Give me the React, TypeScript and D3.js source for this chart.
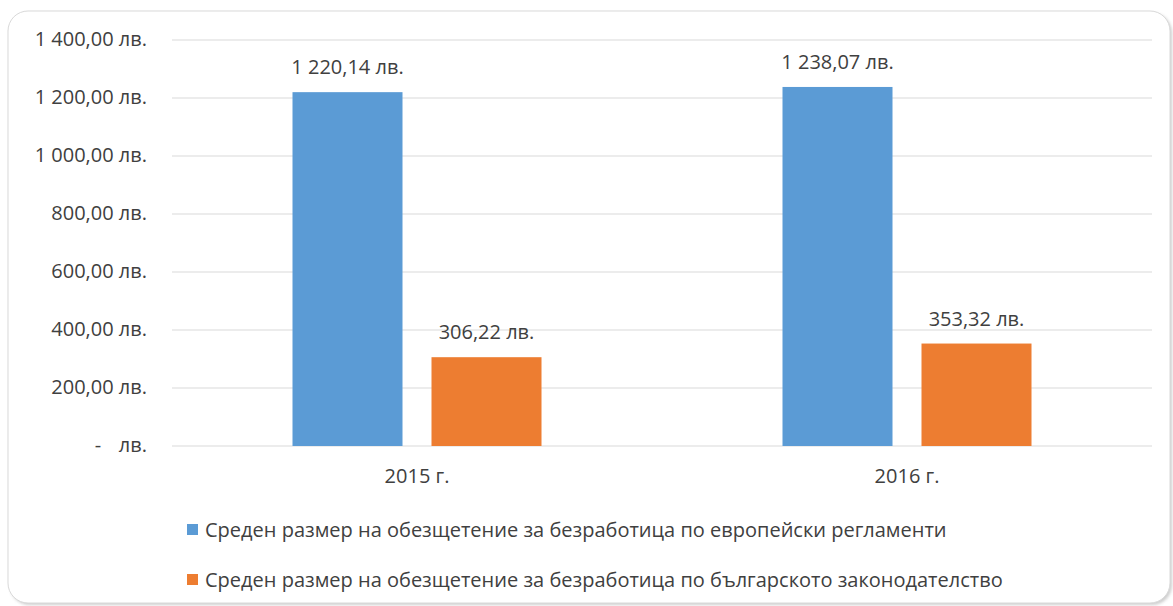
import React from "react";
import * as d3 from "d3";

const years = ["2015 г.", "2016 г."];
const seriesNames = [
  "Среден размер на обезщетение за безработица по европейски регламенти",
  "Среден размер на обезщетение за безработица по българското законодателство",
];
const euValues = [1220.14, 1238.07];
const bgValues = [306.22, 353.32];
const yTicks = [0, 200, 400, 600, 800, 1000, 1200, 1400];
const colors = ["#5b9bd5", "#ed7d31"];

// 1 220,14 лв.
const fmt = (v: number) => {
  const [i, dec] = v.toFixed(2).split(".");
  const grouped = i.replace(/\B(?=(\d{3})+(?!\d))/g, " ");
  return `${grouped},${dec} лв.`;
};

function App() {
  const width = 1173;
  const height = 606;
  const left = 172;
  const right = 1152;
  const top = 40;
  const bottom = 446;
  const font = "'Open Sans', sans-serif";
  const fs = 20;
  const textColor = "#404040";

  const x = d3.scaleBand().domain(years).range([left, right]);
  const y = d3.scaleLinear().domain([0, 1400]).range([bottom, top]);

  const series = [euValues, bgValues];
  const barW = 110;
  const pairGap = 29;

  return (
    <svg width={width} height={height} style={{ position: "absolute", left: 0, top: 0 }}>
      <defs>
        <filter id="sh" x="-5%" y="-5%" width="110%" height="110%">
          <feGaussianBlur stdDeviation="1.5" />
        </filter>
      </defs>
      <rect x={10} y={13} width={1162} height={592} rx={20} fill="#cfcfcf" filter="url(#sh)" />
      <rect x={8} y={11} width={1162} height={592} rx={20} fill="#fff" stroke="#d9d9d9" strokeWidth={1} />
      {yTicks.map((t) => (
        <line key={t} x1={left} x2={right} y1={y(t)} y2={y(t)} stroke="#d9d9d9" strokeWidth={1} />
      ))}
      {yTicks.map((t) =>
        t === 0 ? (
          <g key={t} fontFamily={font} fontSize={fs} fill={textColor}>
            <text x={98} y={y(t) + 6} textAnchor="middle">-</text>
            <text x={147} y={y(t) + 6} textAnchor="end">лв.</text>
          </g>
        ) : (
          <text key={t} x={147} y={y(t) + 6} textAnchor="end" fontFamily={font} fontSize={fs} fill={textColor}>
            {fmt(t)}
          </text>
        )
      )}
      {years.map((yr, i) => {
        const c = (x(yr) ?? 0) + x.bandwidth() / 2;
        return (
          <g key={yr}>
            {series.map((vals, s) => {
              const bx = c - pairGap / 2 - barW + s * (barW + pairGap);
              return (
                <g key={s}>
                  <rect x={bx} y={y(vals[i])} width={barW} height={bottom - y(vals[i])} fill={colors[s]} />
                  <text
                    x={bx + barW / 2}
                    y={y(vals[i]) - 18}
                    textAnchor="middle"
                    fontFamily={font}
                    fontSize={fs}
                    fill={textColor}
                  >
                    {fmt(vals[i])}
                  </text>
                </g>
              );
            })}
            <text x={c} y={483} textAnchor="middle" fontFamily={font} fontSize={fs} fill={textColor}>
              {yr}
            </text>
          </g>
        );
      })}
      {seriesNames.map((n, s) => (
        <g key={n}>
          <rect x={187} y={524 + s * 50} width={11} height={11} fill={colors[s]} />
          <text x={205} y={537 + s * 50} fontFamily={font} fontSize={fs} fill={textColor}>
            {n}
          </text>
        </g>
      ))}
    </svg>
  );
}

export default App;
